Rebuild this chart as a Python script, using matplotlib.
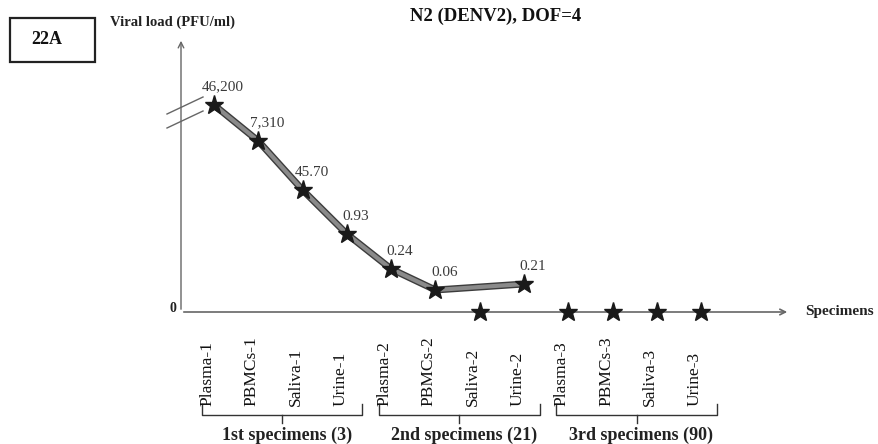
import matplotlib
matplotlib.use("Agg")
import matplotlib.pyplot as plt
import matplotlib.patheffects as pe
from matplotlib.patches import Rectangle

# specimens along the x axis
specimens = ['Plasma-1', 'PBMCs-1', 'Saliva-1', 'Urine-1',
             'Plasma-2', 'PBMCs-2', 'Saliva-2', 'Urine-2',
             'Plasma-3', 'PBMCs-3', 'Saliva-3', 'Urine-3']
# labelled viral loads (PFU/ml), blank where nothing is detected
load_labels = ['46,200', '7,310', '45.70', '0.93', '0.24', '0.06', '', '0.21', '', '', '', '']
# schematic heights as drawn (axis is broken, not to scale)
heights = [20.7, 17.1, 12.2, 7.8, 4.3, 2.2, 0, 2.8, 0, 0, 0, 0]
on_line = [True, True, True, True, True, True, False, True, False, False, False, False]
groups = ['1st specimens (3)', '2nd specimens (21)', '3rd specimens (90)']
group_members = [(0, 3), (4, 7), (8, 11)]

SERIF = 'Liberation Serif'
W, H = 879, 444
X0_PX, STEP_PX, ZERO_PY, UNIT_PX = 214, 44.3, 312, 10.0


def px_x(px):
    return (px - X0_PX) / STEP_PX


def px_y(py):
    return (ZERO_PY - py) / UNIT_PX


fig = plt.figure(figsize=(W / 100, H / 100), dpi=100)
ax = fig.add_axes([0, 0, 1, 1])
ax.set_xlim(px_x(0), px_x(W))
ax.set_ylim(px_y(H), px_y(0))
ax.axis('off')

axis_col = '#666666'
x_axis = px_x(181)
# axes with arrows
ax.annotate('', xy=(x_axis, px_y(38)), xytext=(x_axis, 0),
            arrowprops=dict(arrowstyle='->', color=axis_col, lw=1.0))
ax.annotate('', xy=(px_x(790), 0), xytext=(x_axis, 0),
            arrowprops=dict(arrowstyle='->', color=axis_col, lw=1.2))

# axis break marks
for off in (0, 14):
    ax.plot([px_x(167), px_x(203)], [px_y(114 + off), px_y(97 + off)],
            color=axis_col, lw=1.0)

# connecting line
xs = [i for i in range(len(specimens)) if on_line[i]]
ys = [heights[i] for i in xs]
ax.plot(xs, ys, color='#8a8a8a', lw=3.0, solid_capstyle='round', zorder=3,
        path_effects=[pe.Stroke(linewidth=5.0, foreground='#3c3c3c'), pe.Normal()])

# stars
ax.plot(range(len(specimens)), heights, linestyle='none', marker='*',
        markersize=14, color='#1a1a1a', zorder=4)

# value labels
for i, lab in enumerate(load_labels):
    if lab:
        ax.text(i + 0.2, heights[i] + 1.8, lab, ha='center', va='center',
                fontsize=11, family=SERIF, color='#3a3a3a')

# specimen tick labels
for i, name in enumerate(specimens):
    ax.text(i - 0.15, px_y(406), name, rotation=90, ha='center', va='bottom',
            fontsize=12.5, family=SERIF, color='#111111')

# group brackets
for (a, b), g in zip(group_members, groups):
    left, right = a - 0.27, b + 0.35
    mid = (left + right) / 2
    ax.plot([left, left, right, right], [px_y(404), px_y(415), px_y(415), px_y(404)],
            color='#333333', lw=1.0)
    ax.plot([mid, mid], [px_y(415), px_y(423)], color='#333333', lw=1.0)
    ax.text(mid + 0.1, px_y(435), g, ha='center', va='center', fontsize=13,
            family=SERIF, fontweight='bold', color='#222222')

ax.text(px_x(173), 0.4, '0', ha='center', va='center', fontsize=10, family=SERIF,
        fontweight='bold', color='#222222')
ax.text(px_x(805), 0, 'Specimens', ha='left', va='center', fontsize=11,
        family=SERIF, fontweight='bold', color='#222222')

# header texts
fig.text(496 / W, 1 - 16 / H, 'N2 (DENV2), DOF=4', ha='center', va='center',
         fontsize=13.5, family=SERIF, fontweight='bold', color='#111111')
fig.text(110 / W, 1 - 22 / H, 'Viral load (PFU/ml)', ha='left', va='center',
         fontsize=10.5, family=SERIF, fontweight='bold', color='#222222')
fig.patches.append(Rectangle((10 / W, 1 - 62 / H), 85 / W, 44 / H,
                             transform=fig.transFigure, fill=False,
                             edgecolor='#222222', lw=1.6))
fig.text(47 / W, 1 - 40 / H, '22A', ha='center', va='center', fontsize=13,
         family=SERIF, fontweight='bold', color='#111111')

fig.savefig('out.png', dpi=100)
